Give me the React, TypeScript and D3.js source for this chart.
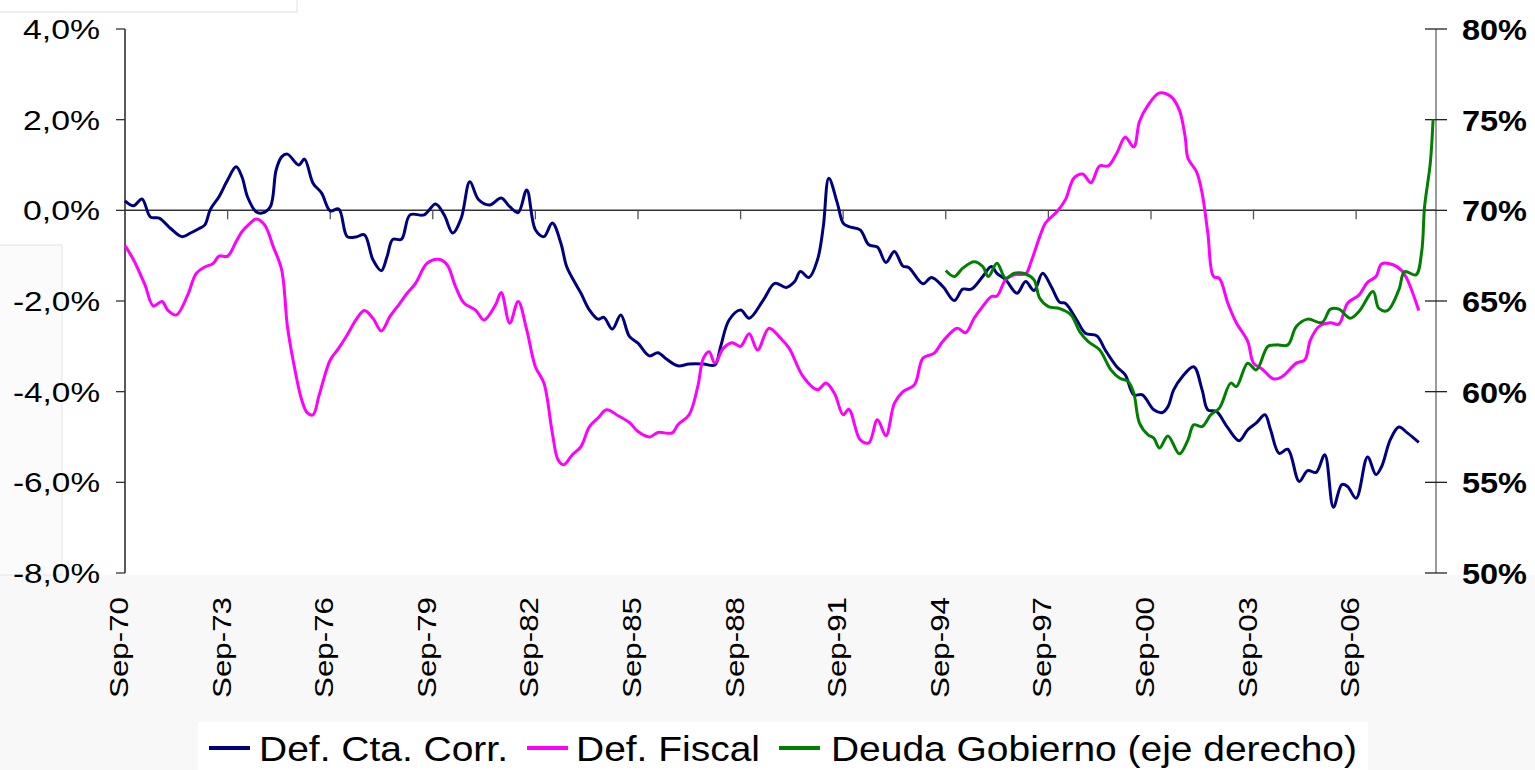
import React from "react";
import * as d3 from "d3";

// Def. Cta. Corr. (% del PIB, eje izquierdo)
const ctaDates = [
  "1970-09", "1970-12", "1971-03", "1971-06", "1971-09", "1972-01", "1972-05", "1972-08", "1972-11", "1973-01",
  "1973-03", "1973-06", "1973-09", "1973-12", "1974-02", "1974-04", "1974-07", "1974-09", "1974-12", "1975-02",
  "1975-04", "1975-06", "1975-10", "1975-12", "1976-03", "1976-06", "1976-09", "1976-12", "1977-03", "1977-06",
  "1977-09", "1977-12", "1978-03", "1978-05", "1978-07", "1978-10", "1979-01", "1979-06", "1979-10", "1980-01",
  "1980-04", "1980-07", "1980-10", "1981-01", "1981-05", "1981-09", "1981-12", "1982-03", "1982-06", "1982-09",
  "1982-12", "1983-03", "1983-06", "1983-08", "1983-11", "1984-01", "1984-04", "1984-07", "1984-09", "1984-12",
  "1985-03", "1985-06", "1985-09", "1986-01", "1986-04", "1986-07", "1986-11", "1987-03", "1987-08", "1987-12",
  "1988-02", "1988-05", "1988-09", "1988-12", "1989-05", "1989-09", "1990-01", "1990-04", "1990-06", "1990-09",
  "1990-12", "1991-02", "1991-04", "1991-07", "1991-09", "1991-11", "1992-03", "1992-06", "1992-09", "1992-12",
  "1993-03", "1993-06", "1993-08", "1994-01", "1994-04", "1994-08", "1994-12", "1995-03", "1995-06", "1995-10",
  "1996-01", "1996-03", "1996-06", "1996-10", "1997-01", "1997-04", "1997-07", "1997-10", "1998-01", "1998-03",
  "1998-07", "1998-10", "1999-02", "1999-05", "1999-09", "1999-12", "2000-03", "2000-06", "2000-10", "2001-01",
  "2001-03", "2001-05", "2001-08", "2001-12", "2002-03", "2002-05", "2002-08", "2002-12", "2003-04", "2003-07",
  "2003-10", "2004-01", "2004-03", "2004-06", "2004-09", "2005-01", "2005-04", "2005-07", "2005-10", "2006-01",
  "2006-04", "2006-06", "2006-09", "2007-01", "2007-04", "2007-06", "2007-09", "2007-12", "2008-03", "2008-07",
];
const ctaValues = [
  0.21, 0.1, 0.25, -0.15, -0.17, -0.4, -0.58, -0.5, -0.4, -0.32,
  0.02, 0.3, 0.67, 0.96, 0.74, 0.3, -0.03, -0.06, 0.08, 0.89,
  1.18, 1.24, 1.0, 1.13, 0.6, 0.38, -0.01, 0.03, -0.58, -0.59,
  -0.54, -1.09, -1.33, -1.02, -0.64, -0.64, -0.1, -0.1, 0.14, -0.1,
  -0.5, -0.17, 0.63, 0.24, 0.12, 0.27, 0.08, -0.05, 0.45, -0.43,
  -0.58, -0.28, -0.73, -1.24, -1.61, -1.83, -2.2, -2.4, -2.36, -2.62,
  -2.31, -2.78, -2.93, -3.21, -3.14, -3.28, -3.43, -3.39, -3.39, -3.41,
  -3.0, -2.42, -2.2, -2.38, -1.98, -1.61, -1.7, -1.57, -1.35, -1.48,
  -1.09, -0.36, 0.71, 0.16, -0.28, -0.36, -0.43, -0.76, -0.81, -1.15,
  -0.91, -1.23, -1.26, -1.62, -1.48, -1.68, -1.99, -1.74, -1.74, -1.46,
  -1.24, -1.39, -1.53, -1.83, -1.57, -1.77, -1.39, -1.68, -2.03, -2.05,
  -2.42, -2.71, -2.77, -3.08, -3.45, -3.63, -4.07, -4.07, -4.4, -4.46,
  -4.33, -3.96, -3.67, -3.45, -3.96, -4.4, -4.44, -4.8, -5.08, -4.84,
  -4.69, -4.51, -4.84, -5.36, -5.27, -5.98, -5.74, -5.78, -5.39, -6.55,
  -6.05, -6.09, -6.35, -5.44, -5.83, -5.65, -5.06, -4.78, -4.91, -5.12,
];

// Def. Fiscal (% del PIB, eje izquierdo)
const fiscalDates = [
  "1970-09", "1970-12", "1971-04", "1971-07", "1971-10", "1971-12", "1972-03", "1972-07", "1972-10", "1973-01",
  "1973-04", "1973-06", "1973-09", "1973-12", "1974-02", "1974-05", "1974-07", "1974-10", "1975-01", "1975-04",
  "1975-06", "1975-08", "1975-11", "1976-01", "1976-03", "1976-05", "1976-07", "1976-09", "1976-12", "1977-03",
  "1977-06", "1977-09", "1977-12", "1978-03", "1978-06", "1978-09", "1978-12", "1979-03", "1979-07", "1979-11",
  "1980-02", "1980-05", "1980-08", "1980-12", "1981-03", "1981-07", "1981-09", "1981-12", "1982-03", "1982-06",
  "1982-09", "1982-12", "1983-03", "1983-05", "1983-07", "1983-10", "1984-01", "1984-04", "1984-07", "1984-10",
  "1985-02", "1985-06", "1985-09", "1986-01", "1986-04", "1986-09", "1986-11", "1987-03", "1987-06", "1987-08",
  "1987-10", "1987-12", "1988-03", "1988-06", "1988-09", "1988-12", "1989-03", "1989-07", "1989-11", "1990-02",
  "1990-07", "1990-12", "1991-03", "1991-06", "1991-09", "1991-11", "1992-03", "1992-06", "1992-09", "1992-12",
  "1993-03", "1993-06", "1993-10", "1994-01", "1994-05", "1994-08", "1995-01", "1995-04", "1995-07", "1995-10",
  "1996-01", "1996-03", "1996-06", "1996-09", "1997-01", "1997-03", "1997-06", "1997-08", "1997-12", "1998-03",
  "1998-06", "1998-09", "1998-12", "1999-03", "1999-06", "1999-09", "1999-12", "2000-03", "2000-05", "2000-08",
  "2000-12", "2001-04", "2001-07", "2001-09", "2001-10", "2002-01", "2002-03", "2002-05", "2002-07", "2002-09",
  "2002-12", "2003-03", "2003-07", "2003-09", "2003-12", "2004-04", "2004-07", "2004-12", "2005-03", "2005-05",
  "2005-08", "2005-12", "2006-03", "2006-06", "2006-10", "2007-01", "2007-04", "2007-06", "2007-10", "2008-01",
  "2008-03", "2008-07",
];
const fiscalValues = [
  -0.78, -1.09, -1.64, -2.11, -2.01, -2.2, -2.31, -1.87, -1.39, -1.25,
  -1.17, -1.01, -1.01, -0.69, -0.47, -0.28, -0.19, -0.32, -0.8, -1.31,
  -2.55, -3.3, -4.18, -4.47, -4.51, -4.11, -3.67, -3.3, -3.04, -2.75,
  -2.42, -2.21, -2.38, -2.66, -2.34, -2.09, -1.83, -1.61, -1.17, -1.08,
  -1.2, -1.68, -2.05, -2.2, -2.42, -2.09, -1.81, -2.49, -2.01, -2.64,
  -3.45, -3.81, -4.91, -5.5, -5.61, -5.39, -5.21, -4.77, -4.58, -4.4,
  -4.53, -4.68, -4.88, -5.0, -4.9, -4.91, -4.73, -4.51, -3.89, -3.26,
  -3.12, -3.37, -3.04, -2.92, -3.0, -2.72, -3.08, -2.6, -2.82, -3.04,
  -3.67, -3.96, -3.81, -4.04, -4.51, -4.39, -5.06, -5.13, -4.62, -4.97,
  -4.26, -4.0, -3.85, -3.26, -3.15, -2.89, -2.6, -2.7, -2.38, -2.12,
  -1.9, -1.89, -1.53, -1.42, -1.4, -1.13, -0.58, -0.28, -0.03, 0.23,
  0.71, 0.8, 0.61, 0.98, 0.98, 1.26, 1.61, 1.4, 1.96, 2.32,
  2.59, 2.51, 2.21, 1.62, 1.15, 0.85, 0.38, -0.5, -1.46, -1.5,
  -2.05, -2.48, -2.89, -3.37, -3.5, -3.72, -3.67, -3.37, -3.3, -2.86,
  -2.56, -2.48, -2.51, -2.05, -1.87, -1.59, -1.46, -1.18, -1.2, -1.33,
  -1.53, -2.21,
];

// Deuda Gobierno (% del PIB, eje derecho)
const deudaDates = [
  "1994-09", "1994-12", "1995-03", "1995-07", "1995-10", "1995-12", "1996-03", "1996-06", "1996-09", "1997-01",
  "1997-04", "1997-06", "1997-09", "1998-01", "1998-05", "1998-08", "1998-11", "1999-03", "1999-07", "1999-10",
  "2000-01", "2000-03", "2000-05", "2000-08", "2000-10", "2000-12", "2001-03", "2001-07", "2001-10", "2001-12",
  "2002-03", "2002-06", "2002-09", "2003-01", "2003-03", "2003-07", "2003-10", "2004-02", "2004-05", "2004-09",
  "2004-12", "2005-04", "2005-09", "2005-12", "2006-03", "2006-07", "2006-10", "2007-03", "2007-05", "2007-08",
  "2007-12", "2008-02", "2008-06", "2008-08", "2008-09", "2008-11", "2008-12",
];
const deudaValues = [
  66.68, 66.35, 66.81, 67.17, 66.9, 66.35, 67.08, 66.26, 66.53, 66.49,
  66.16, 65.15, 64.69, 64.58, 64.23, 63.31, 62.76, 62.31, 61.2, 60.75,
  60.56, 59.92, 58.27, 57.62, 57.44, 56.89, 57.56, 56.57, 57.34, 58.17,
  58.08, 58.72, 59.09, 60.47, 60.28, 61.57, 61.2, 62.49, 62.58, 62.58,
  63.59, 64.0, 63.81, 64.55, 64.55, 64.05, 64.42, 65.52, 64.6, 64.47,
  65.61, 66.62, 66.44, 67.72, 70.2, 72.6, 75.02,
];

const leftTicks = [4, 2, 0, -2, -4, -6, -8];
const rightTicks = [80, 75, 70, 65, 60, 55, 50];
const xTickLabels = [
  "Sep-70", "Sep-73", "Sep-76", "Sep-79", "Sep-82", "Sep-85", "Sep-88",
  "Sep-91", "Sep-94", "Sep-97", "Sep-00", "Sep-03", "Sep-06",
];
const legendLabels = ["Def. Cta. Corr.", "Def. Fiscal", "Deuda Gobierno (eje derecho)"];
const colors = ["#000080", "#ff00ff", "#008000"];

const FONT = "'Liberation Sans', Arial, sans-serif";
const parseMonth = d3.timeParse("%Y-%m");
const parseTick = d3.timeParse("%b-%y");

export default function App() {
  const width = 1535;
  const height = 770;
  const plot = { left: 125, right: 1436, top: 29, bottom: 573 };

  const x = d3.scaleTime()
    .domain([parseMonth("1970-09"), parseMonth("2009-01")])
    .range([plot.left, plot.right]);
  const yLeft = d3.scaleLinear().domain([-8, 4]).range([plot.bottom, plot.top]);
  const yRight = d3.scaleLinear().domain([50, 80]).range([plot.bottom, plot.top]);

  const toPoints = (dates, values) => dates.map((d, i) => [parseMonth(d), values[i]]);

  const lineLeft = d3.line()
    .x(d => x(d[0]))
    .y(d => yLeft(d[1]))
    .curve(d3.curveCatmullRom.alpha(0.5));
  const lineRight = d3.line()
    .x(d => x(d[0]))
    .y(d => yRight(d[1]))
    .curve(d3.curveCatmullRom.alpha(0.5));

  const series = [
    lineLeft(toPoints(ctaDates, ctaValues)),
    lineLeft(toPoints(fiscalDates, fiscalValues)),
    lineRight(toPoints(deudaDates, deudaValues)),
  ];

  const fmtLeft = v => d3.format(".1f")(v).replace(".", ",").replace("−", "-") + "%";
  const zeroY = yLeft(0);

  // legend layout (sample line start, text start, text length)
  const legendItems = [
    { x0: 209, tx: 259, len: 249 },
    { x0: 527, tx: 576, len: 184 },
    { x0: 779, tx: 831, len: 526 },
  ];

  return (
    <svg
      width={width}
      height={height}
      style={{ position: "fixed", left: 0, top: 0, fontFamily: FONT }}
    >
      {/* background */}
      <rect x={0} y={0} width={width} height={height} fill="#f8f8f8" />
      <rect x={0} y={0} width={width} height={575} fill="#ffffff" />
      <rect x={-1} y={245} width={63} height={330} fill="#fbfbfb" stroke="#e4e4e4" />
      <rect x={-1} y={-1} width={298} height={13} fill="#ffffff" stroke="#e2e2e2" />

      {/* left axis */}
      <line x1={plot.left} x2={plot.left} y1={plot.top} y2={plot.bottom} stroke="#000" strokeWidth={1.3} />
      {leftTicks.map(t => (
        <g key={"l" + t}>
          <line x1={plot.left - 9} x2={plot.left} y1={yLeft(t)} y2={yLeft(t)} stroke="#333" strokeWidth={1.3} />
          <text
            x={100}
            y={yLeft(t) + 10}
            textAnchor="end"
            fontSize={28}
            textLength={t < 0 ? 87 : 77}
            lengthAdjust="spacingAndGlyphs"
            fill="#000"
          >
            {fmtLeft(t)}
          </text>
        </g>
      ))}

      {/* right axis */}
      <line x1={plot.right} x2={plot.right} y1={plot.top} y2={plot.bottom} stroke="#7a7a7a" strokeWidth={1.5} />
      {rightTicks.map(t => (
        <g key={"r" + t}>
          <line x1={plot.right - 11} x2={plot.right + 11} y1={yRight(t)} y2={yRight(t)} stroke="#222" strokeWidth={1.3} />
          <text
            x={1462}
            y={yRight(t) + 11}
            fontSize={29}
            fontWeight="bold"
            textLength={65}
            lengthAdjust="spacingAndGlyphs"
            fill="#000"
          >
            {t + "%"}
          </text>
        </g>
      ))}

      {/* category axis on the zero line */}
      <line x1={plot.left} x2={plot.right} y1={zeroY} y2={zeroY} stroke="#333" strokeWidth={1.5} />
      {xTickLabels.map(label => {
        const tx = x(parseTick(label));
        return (
          <g key={label}>
            {tx > plot.left + 1 && (
              <line x1={tx} x2={tx} y1={zeroY} y2={zeroY + 9} stroke="#555" strokeWidth={1.3} />
            )}
            <text
              transform={`translate(${tx + 3},597) rotate(-90)`}
              textAnchor="end"
              fontSize={25}
              textLength={101}
              lengthAdjust="spacingAndGlyphs"
              fill="#000"
            >
              {label}
            </text>
          </g>
        );
      })}

      {/* series */}
      {series.map((d, i) => (
        <path key={"s" + i} d={d} fill="none" stroke={colors[i]} strokeWidth={3} strokeLinejoin="round" />
      ))}

      {/* legend */}
      <rect x={198} y={722} width={1170} height={60} fill="#ffffff" />
      {legendLabels.map((label, i) => (
        <g key={label}>
          <line
            x1={legendItems[i].x0}
            x2={legendItems[i].x0 + 41}
            y1={748}
            y2={748}
            stroke={colors[i]}
            strokeWidth={4}
          />
          <text
            x={legendItems[i].tx}
            y={761}
            fontSize={35}
            textLength={legendItems[i].len}
            lengthAdjust="spacingAndGlyphs"
            fill="#000"
          >
            {label}
          </text>
        </g>
      ))}
    </svg>
  );
}
